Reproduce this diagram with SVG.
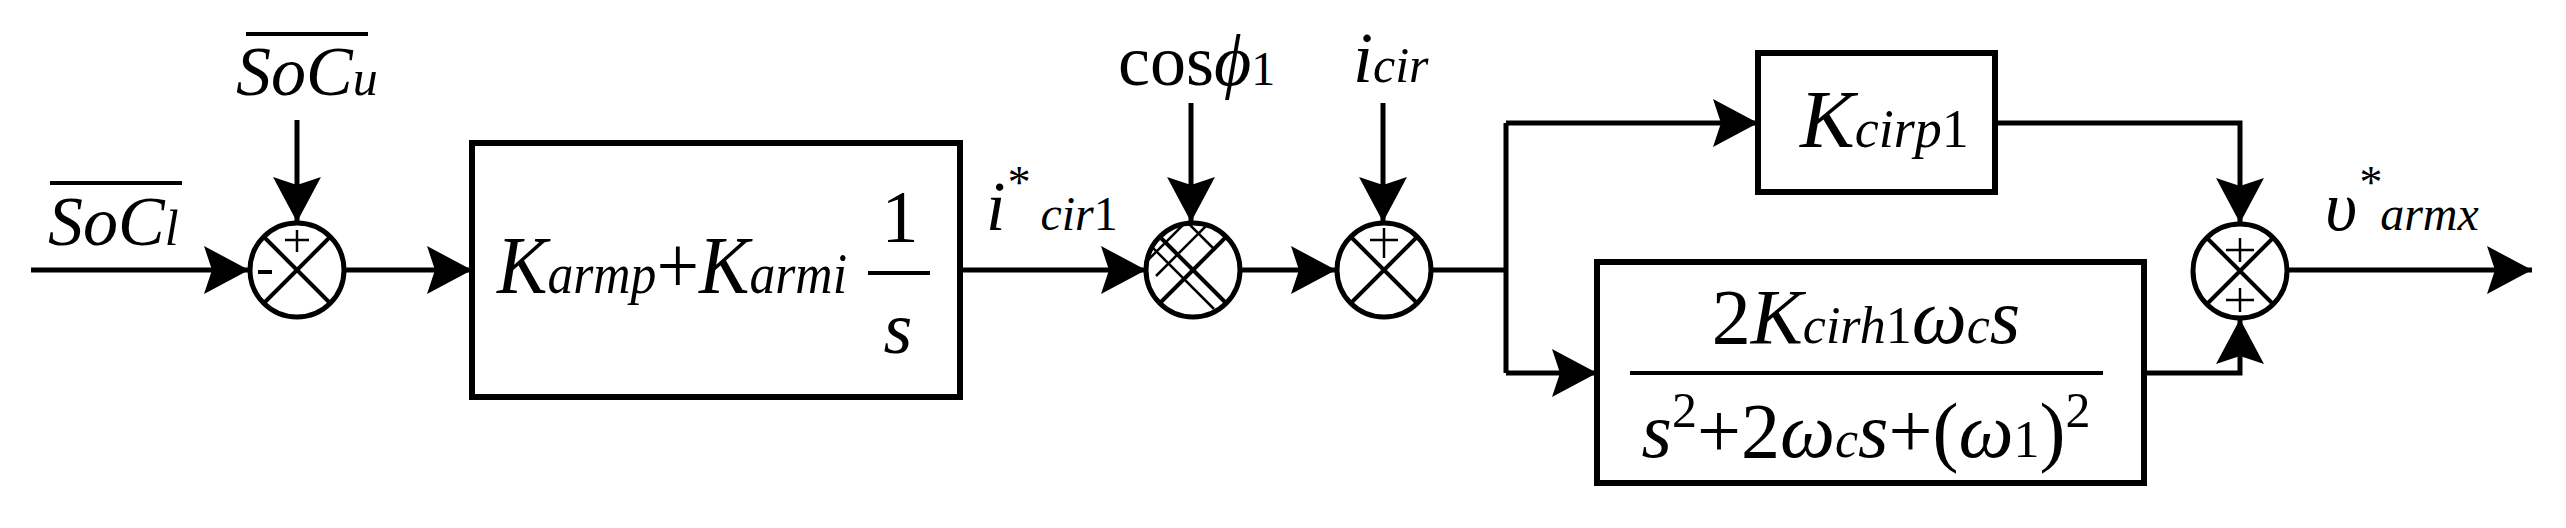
<svg xmlns="http://www.w3.org/2000/svg" width="2566" height="528" viewBox="0 0 2566 528">
<style>
.ln{fill:none;stroke:#000;stroke-width:5}
.bx{fill:#fff;stroke:#000;stroke-width:6}
.sj{fill:#fff;stroke:#000;stroke-width:5}
.x{stroke:#000;stroke-width:4}
.h{stroke:#000;stroke-width:2.5}
text{font-family:"Liberation Serif","Times New Roman","DejaVu Serif",serif;fill:#000}
.t{font-style:italic}
.r{font-style:normal}
</style>
<defs>
<marker id="a" markerUnits="userSpaceOnUse" markerWidth="46" markerHeight="50" refX="45" refY="24" orient="auto">
<path d="M0,0 L45,24 L0,48 L8,24 z" fill="#000"/>
</marker>
<clipPath id="c2"><circle cx="1193" cy="270" r="46"/></clipPath>
</defs>
<g id="connectors">
<line class="ln" x1="31" y1="270" x2="249" y2="270" marker-end="url(#a)"/>
<line class="ln" x1="297" y1="120" x2="297" y2="222" marker-end="url(#a)"/>
<line class="ln" x1="345" y1="270" x2="472" y2="270" marker-end="url(#a)"/>
<line class="ln" x1="960" y1="270" x2="1146" y2="270" marker-end="url(#a)"/>
<line class="ln" x1="1191" y1="103" x2="1191" y2="222" marker-end="url(#a)"/>
<line class="ln" x1="1240" y1="270" x2="1336" y2="270" marker-end="url(#a)"/>
<line class="ln" x1="1383" y1="103" x2="1383" y2="222" marker-end="url(#a)"/>
<polyline class="ln" points="1431,270 1506,270"/>
<polyline class="ln" points="1506,123 1506,373"/>
<line class="ln" x1="1506" y1="123" x2="1758" y2="123" marker-end="url(#a)"/>
<line class="ln" x1="1506" y1="373" x2="1597" y2="373" marker-end="url(#a)"/>
<polyline class="ln" points="1995,123 2240,123 2240,223" marker-end="url(#a)"/>
<polyline class="ln" points="2144,373 2240,373 2240,319" marker-end="url(#a)"/>
<line class="ln" x1="2288" y1="270" x2="2532" y2="270" marker-end="url(#a)"/>
</g>
<g id="labels">
<text class="t" x="48" y="245" font-size="70">SoC<tspan font-size="50">l</tspan></text>
<line class="x" x1="50" y1="183" x2="182" y2="183"/>
<text class="t" x="236" y="95" font-size="70">SoC<tspan font-size="50">u</tspan></text>
<line class="x" x1="246" y1="34" x2="368" y2="34"/>
<text class="t" x="986" y="230" font-size="70">i<tspan font-size="46" dy="-32">*</tspan><tspan font-size="48" dy="32"> cir</tspan><tspan class="r" font-size="48">1</tspan></text>
<text class="r" x="1118" y="85" font-size="72">cos<tspan class="t">ϕ</tspan><tspan font-size="48">1</tspan></text>
<text class="t" x="1353" y="82" font-size="72">i<tspan font-size="50">cir</tspan></text>
<text class="t" x="2325" y="230" font-size="70">υ<tspan font-size="46" dy="-32">*</tspan><tspan font-size="48" dy="32">armx</tspan></text>
</g>
<g id="sum1">
<circle class="sj" cx="297" cy="270" r="47"/>
<line class="x" x1="264" y1="237" x2="330" y2="303"/><line class="x" x1="330" y1="237" x2="264" y2="303"/>
<line class="h" x1="285" y1="240" x2="309" y2="240"/><line class="h" x1="297" y1="230" x2="297" y2="252"/>
<line class="x" x1="258" y1="272" x2="272" y2="272"/>
</g>
<g id="pi">
<rect class="bx" x="472" y="143" width="488" height="254"/>
<text class="t" x="497" y="293" font-size="82" textLength="350" lengthAdjust="spacingAndGlyphs">K<tspan font-size="56">armp</tspan><tspan class="r" font-size="82">+</tspan>K<tspan font-size="56">armi</tspan></text>
<text class="r" x="900" y="242" font-size="74" text-anchor="middle">1</text>
<line class="x" x1="868" y1="273" x2="930" y2="273" stroke-width="5"/>
<text class="t" x="898" y="353" font-size="74" text-anchor="middle">s</text>
</g>
<g id="mult">
<circle class="sj" cx="1193" cy="270" r="47"/>
<g clip-path="url(#c2)">
<line class="x" x1="1160" y1="237" x2="1226" y2="303"/><line class="x" x1="1226" y1="237" x2="1160" y2="303"/>
<line class="h" x1="1150" y1="213" x2="1230" y2="293" transform="translate(-16,16)"/>
<line class="h" x1="1150" y1="213" x2="1200" y2="263" transform="translate(14,-14)"/>
<line class="h" x1="1140" y1="300" x2="1210" y2="230" transform="translate(-16,-16)"/>
<line class="h" x1="1160" y1="280" x2="1230" y2="210" transform="translate(-4,-4)"/>
</g>
</g>
<g id="sum2">
<circle class="sj" cx="1384" cy="270" r="47"/>
<line class="x" x1="1351" y1="237" x2="1417" y2="303"/><line class="x" x1="1417" y1="237" x2="1351" y2="303"/>
<line class="h" x1="1370" y1="240" x2="1398" y2="240"/><line class="h" x1="1384" y1="228" x2="1384" y2="258"/>
</g>
<g id="kp">
<rect class="bx" x="1758" y="53" width="237" height="139"/>
<text class="t" x="1800" y="147" font-size="82">K<tspan font-size="54">cirp</tspan><tspan class="r" font-size="54">1</tspan></text>
</g>
<g id="res">
<rect class="bx" x="1597" y="262" width="547" height="221"/>
<text class="r" x="1866" y="343" font-size="78" text-anchor="middle">2<tspan class="t">K</tspan><tspan class="t" font-size="52">cirh</tspan><tspan font-size="52">1</tspan><tspan class="t">ω</tspan><tspan class="t" font-size="52">c</tspan><tspan class="t">s</tspan></text>
<line class="x" x1="1630" y1="373" x2="2103" y2="373" stroke-width="5"/>
<text class="r" x="1866" y="457" font-size="78" text-anchor="middle"><tspan class="t">s</tspan><tspan font-size="50" dy="-30">2</tspan><tspan dy="30">+2</tspan><tspan class="t">ω</tspan><tspan class="t" font-size="52">c</tspan><tspan class="t">s</tspan>+(<tspan class="t">ω</tspan><tspan font-size="52">1</tspan>)<tspan font-size="50" dy="-30">2</tspan></text>
</g>
<g id="sum3">
<circle class="sj" cx="2240" cy="271" r="47"/>
<line class="x" x1="2207" y1="238" x2="2273" y2="304"/><line class="x" x1="2273" y1="238" x2="2207" y2="304"/>
<line class="h" x1="2226" y1="250" x2="2254" y2="250"/><line class="h" x1="2240" y1="238" x2="2240" y2="262"/>
<line class="h" x1="2226" y1="300" x2="2254" y2="300"/><line class="h" x1="2240" y1="288" x2="2240" y2="312"/>
</g>
</svg>
